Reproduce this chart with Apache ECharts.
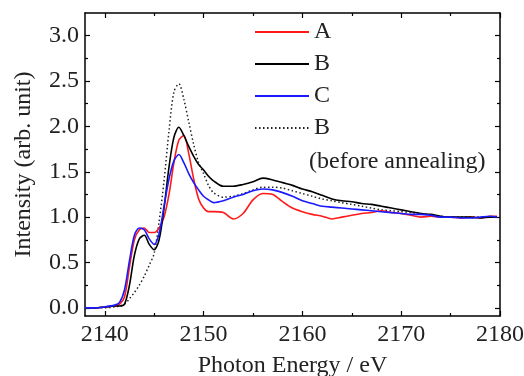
<!DOCTYPE html>
<html>
<head>
<meta charset="utf-8">
<script src="https://cdn.jsdelivr.net/npm/echarts@6/dist/echarts.min.js"></script>
<style>
  html, body { margin: 0; padding: 0; background: #fff; }
  #chart { width: 524px; height: 376px; }
</style>
</head>
<body>
<div id="chart"></div>
<script>
// photon energy grid (eV)
const energy = [2138, 2139, 2140, 2141, 2141.5, 2142, 2142.5, 2143, 2143.5, 2144, 2144.5, 2145, 2145.5, 2146, 2146.5, 2147, 2147.5, 2148, 2148.5, 2149, 2149.5, 2150, 2150.5, 2151, 2152, 2153, 2154, 2155, 2156, 2157, 2158, 2159, 2160, 2161, 2162, 2163, 2164, 2165, 2166, 2167, 2168, 2169, 2170, 2171, 2172, 2173, 2174, 2175, 2176, 2177, 2178, 2179, 2179.7]

const sampleA = [0.0, 0.0, 0.01, 0.02, 0.04, 0.12, 0.45, 0.75, 0.86, 0.88, 0.83, 0.83, 0.88, 1.0, 1.25, 1.6, 1.85, 1.9, 1.7, 1.42, 1.2, 1.1, 1.06, 1.06, 1.05, 0.98, 1.04, 1.19, 1.26, 1.25, 1.17, 1.1, 1.06, 1.03, 1.01, 0.98, 1.0, 1.02, 1.04, 1.05, 1.07, 1.05, 1.04, 1.02, 1.0, 1.01, 1.0, 1.0, 0.99, 1.0, 0.99, 1.01, 1.01]
const sampleB = [0.0, 0.0, 0.01, 0.02, 0.02, 0.04, 0.25, 0.58, 0.76, 0.8, 0.7, 0.64, 0.75, 1.1, 1.55, 1.88, 1.99, 1.9, 1.78, 1.67, 1.58, 1.52, 1.45, 1.4, 1.34, 1.34, 1.36, 1.39, 1.43, 1.41, 1.38, 1.35, 1.31, 1.28, 1.24, 1.2, 1.18, 1.17, 1.15, 1.14, 1.12, 1.1, 1.08, 1.06, 1.04, 1.03, 1.01, 1.0, 1.0, 1.0, 0.99, 1.0, 1.0]
const sampleC = [0.0, 0.0, 0.01, 0.03, 0.06, 0.2, 0.52, 0.8, 0.88, 0.86, 0.76, 0.7, 0.82, 1.12, 1.42, 1.62, 1.69, 1.6, 1.48, 1.38, 1.3, 1.23, 1.19, 1.16, 1.18, 1.22, 1.25, 1.29, 1.31, 1.3, 1.27, 1.23, 1.18, 1.15, 1.12, 1.11, 1.1, 1.09, 1.08, 1.07, 1.06, 1.05, 1.04, 1.03, 1.03, 1.02, 1.0, 1.0, 0.99, 0.99, 1.0, 1.01, 1.0]
const sampleBBefore = [0.0, 0.0, 0.0, 0.01, 0.02, 0.04, 0.1, 0.17, 0.25, 0.35, 0.47, 0.6, 0.95, 1.4, 1.95, 2.38, 2.47, 2.3, 2.05, 1.8, 1.6, 1.48, 1.35, 1.27, 1.22, 1.23, 1.26, 1.3, 1.33, 1.33, 1.32, 1.29, 1.26, 1.23, 1.2, 1.18, 1.16, 1.14, 1.12, 1.1, 1.08, 1.07, 1.06, 1.05, 1.04, 1.02, 1.01, 1.0, 1.0, 1.0, 1.0, 1.0, 1.0]

const xTicks = [2140, 2150, 2160, 2170, 2180]
const xMinorTicks = [2145, 2155, 2165, 2175]
const yTicks = [0, 0.5, 1.0, 1.5, 2.0, 2.5, 3.0]
const yMinorTicks = [0.25, 0.75, 1.25, 1.75, 2.25, 2.75]

const font = 'Liberation Serif'
const pair = (ys) => energy.map((e, i) => [e, ys[i]])

const chart = echarts.init(document.getElementById('chart'))

const xBase = { type: 'value', min: 2138, max: 2180, splitLine: { show: false } }
const yBase = { type: 'value', min: -0.09, max: 3.25, splitLine: { show: false } }
const frameLine = { show: true, onZero: false, lineStyle: { color: '#000', width: 1.5 } }
const noLine = { show: false, onZero: false }
const noLabel = { show: false }
const majorTick = (vals) => ({ inside: true, length: 5, customValues: vals, lineStyle: { color: '#000', width: 1.2 } })
const minorTick = (vals) => ({ inside: true, length: 3, customValues: vals, lineStyle: { color: '#000', width: 1.2 } })

const option = {
  animation: false,
  backgroundColor: '#fff',
  grid: { left: 85, right: 24, top: 13, bottom: 60, outerBoundsMode: 'none' },
  xAxis: [
    {
      ...xBase,
      position: 'bottom',
      name: 'Photon Energy / eV',
      nameLocation: 'middle',
      nameGap: 38,
      nameTextStyle: { fontFamily: font, fontSize: 24, color: '#222' },
      axisLine: frameLine,
      axisTick: majorTick(xTicks),
      axisLabel: {
        customValues: xTicks, fontFamily: font, fontSize: 24, color: '#222', margin: 7,
        formatter: (v) => String(v),
      },
    },
    { ...xBase, position: 'bottom', axisLine: noLine, axisTick: minorTick(xMinorTicks), axisLabel: noLabel },
    { ...xBase, position: 'top', axisLine: frameLine, axisTick: majorTick(xTicks), axisLabel: noLabel },
    { ...xBase, position: 'top', axisLine: noLine, axisTick: minorTick(xMinorTicks), axisLabel: noLabel },
  ],
  yAxis: [
    {
      ...yBase,
      position: 'left',
      name: 'Intensity (arb. unit)',
      nameLocation: 'middle',
      nameGap: 49,
      nameTextStyle: { fontFamily: font, fontSize: 24, color: '#222' },
      axisLine: frameLine,
      axisTick: majorTick(yTicks),
      axisLabel: {
        customValues: yTicks,
        fontFamily: font, fontSize: 24, color: '#222', margin: 6,
        formatter: (v) => v.toFixed(1),
      },
    },
    { ...yBase, position: 'left', axisLine: noLine, axisTick: minorTick(yMinorTicks), axisLabel: noLabel },
    { ...yBase, position: 'right', axisLine: frameLine, axisTick: majorTick(yTicks), axisLabel: noLabel },
    { ...yBase, position: 'right', axisLine: noLine, axisTick: minorTick(yMinorTicks), axisLabel: noLabel },
  ],
  legend: {
    orient: 'vertical',
    left: 254,
    top: 20,
    padding: 0,
    itemWidth: 54,
    itemHeight: 12,
    itemGap: 8,
    itemStyle: { opacity: 0 },
    data: ['A', 'B', 'C', 'B (before annealing)'],
    formatter: (name) => (name.startsWith('B') ? 'B' : name),
    textStyle: { fontFamily: font, fontSize: 24, color: '#222' },
  },
  graphic: [
    {
      type: 'text',
      left: 309,
      top: 150,
      style: { text: '(before annealing)', font: '24px "Liberation Serif"', fill: '#222' },
    },
  ],
  series: [
    {
      name: 'B (before annealing)', type: 'line', smooth: 0.3, symbol: 'none',
      lineStyle: { color: '#222', width: 1.5, type: [1.5, 2.5] }, itemStyle: { color: '#222' },
      data: pair(sampleBBefore), z: 1,
    },
    {
      name: 'A', type: 'line', smooth: 0.3, symbol: 'none',
      lineStyle: { color: '#ff1a1a', width: 1.6 }, itemStyle: { color: '#ff1a1a' },
      data: pair(sampleA), z: 2,
    },
    {
      name: 'B', type: 'line', smooth: 0.3, symbol: 'none',
      lineStyle: { color: '#000', width: 1.6 }, itemStyle: { color: '#000' },
      data: pair(sampleB), z: 3,
    },
    {
      name: 'C', type: 'line', smooth: 0.3, symbol: 'none',
      lineStyle: { color: '#1a1aff', width: 1.6 }, itemStyle: { color: '#1a1aff' },
      data: pair(sampleC), z: 4,
    },
  ],
}

chart.setOption(option)
</script>
</body>
</html>
